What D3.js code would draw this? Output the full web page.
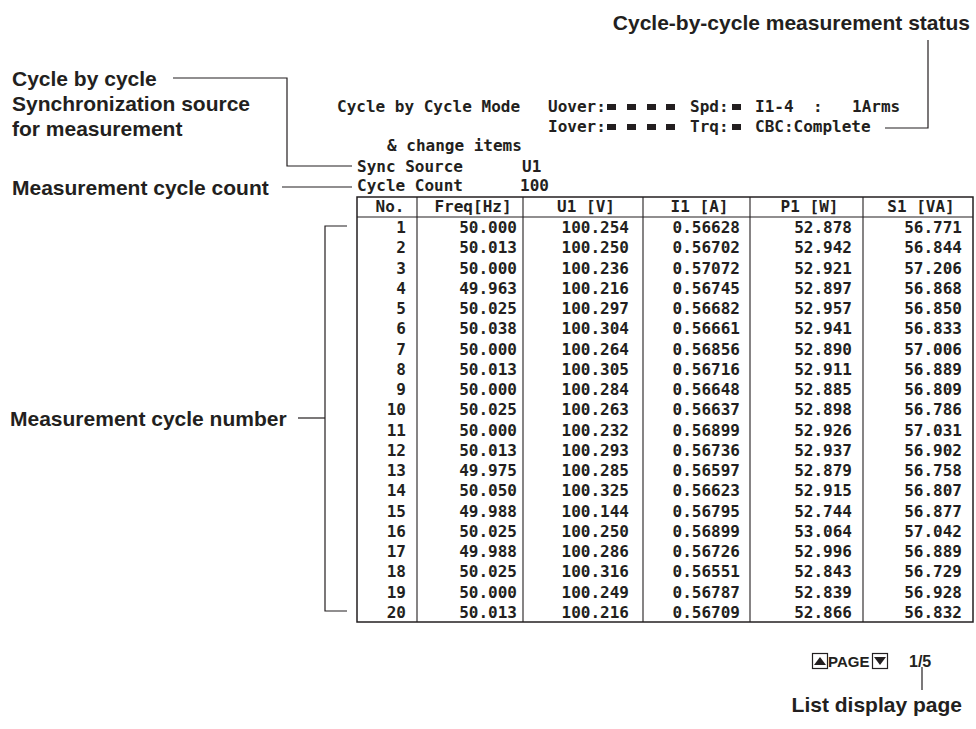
<!DOCTYPE html>
<html><head><meta charset="utf-8">
<script src="https://cdn.jsdelivr.net/npm/d3@7"></script>
<style>
html,body{margin:0;padding:0;background:#fff;}
svg{display:block;}
.ann{font-family:"Liberation Sans",Arial,Helvetica,sans-serif;font-weight:bold;font-size:21px;fill:#231f20;}
.lcd{font-family:"DejaVu Sans Mono","Liberation Mono",monospace;font-weight:bold;font-size:16px;fill:#231f20;}
</style></head><body>
<svg id="chart" width="976" height="729"></svg>
<script>
// ---------- data ----------
const cycleNo = [1,2,3,4,5,6,7,8,9,10,11,12,13,14,15,16,17,18,19,20];
const freqHz = [50.000,50.013,50.000,49.963,50.025,50.038,50.000,50.013,50.000,50.025,50.000,50.013,49.975,50.050,49.988,50.025,49.988,50.025,50.000,50.013];
const u1V = [100.254,100.250,100.236,100.216,100.297,100.304,100.264,100.305,100.284,100.263,100.232,100.293,100.285,100.325,100.144,100.250,100.286,100.316,100.249,100.216];
const i1A = [0.56628,0.56702,0.57072,0.56745,0.56682,0.56661,0.56856,0.56716,0.56648,0.56637,0.56899,0.56736,0.56597,0.56623,0.56795,0.56899,0.56726,0.56551,0.56787,0.56709];
const p1W = [52.878,52.942,52.921,52.897,52.957,52.941,52.890,52.911,52.885,52.898,52.926,52.937,52.879,52.915,52.744,53.064,52.996,52.843,52.839,52.866];
const s1VA = [56.771,56.844,57.206,56.868,56.850,56.833,57.006,56.889,56.809,56.786,57.031,56.902,56.758,56.807,56.877,57.042,56.889,56.729,56.928,56.832];
const columnLabels = ["No.","Freq[Hz]","U1 [V]","I1 [A]","P1 [W]","S1 [VA]"];
const columnFormats = ["d",".3f",".3f",".5f",".3f",".3f"];
const syncSource = "U1";
const cycleCount = "100";
const pageLabel = "1/5";

// ---------- layout ----------
const svg = d3.select("#chart");
svg.append("rect").attr("width",976).attr("height",729).attr("fill","#fff");
const ink = "#231f20";

const tableLeft = 357, tableRight = 973, tableTop = 197, headBottom = 217, tableBottom = 622;
const colWidths = [60,106,120,107,113,110];
const colPad = [11,6,14,10,11,11];
const edges = [tableLeft, ...Array.from(d3.cumsum(colWidths), d => tableLeft + d)];
const colX = d3.scaleOrdinal().domain(columnLabels).range(edges.slice(0,-1));
const y = d3.scaleBand().domain(cycleNo).range([headBottom, tableBottom]);

const seriesCols = [cycleNo, freqHz, u1V, i1A, p1W, s1VA];

// table frame
const g = svg.append("g");
g.append("rect").attr("x",tableLeft).attr("y",tableTop)
  .attr("width",tableRight-tableLeft).attr("height",tableBottom-tableTop)
  .attr("fill","none").attr("stroke",ink).attr("stroke-width",1.5);
g.append("line").attr("x1",tableLeft).attr("x2",tableRight).attr("y1",headBottom).attr("y2",headBottom)
  .attr("stroke",ink).attr("stroke-width",1.2);
g.selectAll("line.div").data(edges.slice(1,-1)).join("line").attr("class","div")
  .attr("x1",d=>d).attr("x2",d=>d).attr("y1",tableTop).attr("y2",tableBottom)
  .attr("stroke",ink).attr("stroke-width",1.1);

// header labels
g.selectAll("text.hd").data(columnLabels).join("text").attr("class","lcd hd")
  .attr("x",(d,i)=>colX(d)+colWidths[i]/2+3).attr("y",212)
  .attr("text-anchor","middle").text(d=>d);

// cells
columnLabels.forEach((lab,ci)=>{
  const fmt = d3.format(columnFormats[ci]);
  g.selectAll("text.c"+ci).data(seriesCols[ci]).join("text").attr("class","lcd c"+ci)
    .attr("x", colX(lab)+colWidths[ci]-colPad[ci])
    .attr("y", (d,i)=>y(cycleNo[i]) + y.bandwidth()/2 + 6)
    .attr("text-anchor","end").text(d=>fmt(d));
});

// status text (LCD style)
const lcdTexts = [
  {x:337,y:112,t:"Cycle by Cycle Mode"},
  {x:548,y:112,t:"Uover:"},
  {x:690,y:112,t:"Spd:"},
  {x:755,y:112,t:"I1-4"},
  {x:813,y:112,t:":"},
  {x:852,y:112,t:"1Arms"},
  {x:548,y:132,t:"Iover:"},
  {x:690,y:132,t:"Trq:"},
  {x:755,y:132,t:"CBC:Complete"},
  {x:387,y:151,t:"& change items"},
  {x:357,y:172,t:"Sync Source"},
  {x:522,y:172,t:syncSource},
  {x:357,y:191,t:"Cycle Count"},
  {x:520,y:191,t:cycleCount}
];
svg.selectAll("text.st").data(lcdTexts).join("text").attr("class","lcd st")
  .attr("x",d=>d.x).attr("y",d=>d.y).text(d=>d.t);

// indicator squares
const sqX = [607,627,647,666,732];
[112,132].forEach(by=>{
  svg.selectAll(null).data(sqX).join("rect")
    .attr("x",d=>d).attr("y",by-8).attr("width",9).attr("height",6).attr("fill",ink);
});

// annotations
const anns = [
  {x:970,y:30,t:"Cycle-by-cycle measurement status",a:"end"},
  {x:12,y:86,t:"Cycle by cycle",a:"start"},
  {x:12,y:111,t:"Synchronization source",a:"start"},
  {x:12,y:136,t:"for measurement",a:"start"},
  {x:12,y:195,t:"Measurement cycle count",a:"start"},
  {x:10,y:426,t:"Measurement cycle number",a:"start"},
  {x:962,y:712,t:"List display page",a:"end"}
];
svg.selectAll("text.an").data(anns).join("text").attr("class","ann an")
  .attr("x",d=>d.x).attr("y",d=>d.y).attr("text-anchor",d=>d.a).text(d=>d.t);

const leaders = [
  [[885,128],[928,128],[928,40]],
  [[173,78],[287,78],[287,166],[352,166]],
  [[282,187],[352,187]],
  [[347,226],[325,226],[325,611],[347,611]],
  [[298,418],[325,418]],
  [[922,667],[922,690]]
];
svg.selectAll("path.ld").data(leaders).join("path").attr("class","ld")
  .attr("d",d=>d3.line()(d)).attr("fill","none").attr("stroke",ink).attr("stroke-width",1.2);

// page indicator
const pg = svg.append("g");
pg.append("rect").attr("x",812.5).attr("y",653.5).attr("width",15).attr("height",15)
  .attr("fill","none").attr("stroke",ink).attr("stroke-width",1.2);
pg.append("path").attr("d","M814,665 L820,657 L826,665 Z").attr("fill",ink);
pg.append("text").attr("class","ann").attr("x",828).attr("y",667).style("font-size","15px").text("PAGE");
pg.append("rect").attr("x",872.5).attr("y",653.5).attr("width",15).attr("height",15)
  .attr("fill","none").attr("stroke",ink).attr("stroke-width",1.2);
pg.append("path").attr("d","M874,657 L886,657 L880,665 Z").attr("fill",ink);
pg.append("text").attr("class","ann").attr("x",909).attr("y",667).style("font-size","16px").text(pageLabel);
</script>
</body></html>
